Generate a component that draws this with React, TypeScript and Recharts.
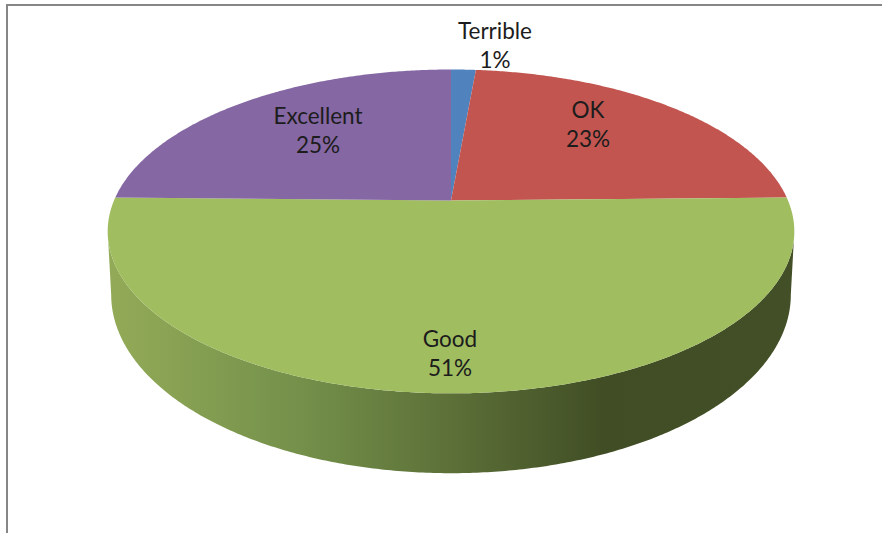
import { Pie, PieChart } from "recharts";

const categories = ["Terrible", "OK", "Good", "Excellent"];
const values = [1.4, 23.3, 50.6, 24.7];
const colors = ["#5082be", "#c25550", "#a0bd60", "#8567a3"];

// label anchor relative to the pie's apex: [dx, baseline dy of first line]
const labelSpots: Record<string, number[]> = {
  Terrible: [44, -162],
  OK: [137, -83],
  Good: [-1, 146],
  Excellent: [-133, -77],
};

const chartData = categories.map((name, i) => ({ name, value: values[i], fill: colors[i] }));

const WIDTH = 882;
const HEIGHT = 533;
const CX = 451;
const CY = 200.5;
const RADIUS = 337;

// perspective of the tilted disc
const TILT = 0.191;
const SQUASH = 0.463;
const rad = Math.PI / 180;

// top ellipse that the projection gives, the wall's lower rim is scaled from it
const TOP_CY_OFFSET = 30.3;
const TOP_RY = 161.5;
const TOP_RX = 343.5;
const BOTTOM_CY_OFFSET = 93.5;
const BOTTOM_RY = 178;
const BOTTOM_RX = 340;

function project(cx: number, cy: number, r: number, deg: number) {
  const x = Math.cos(deg * rad);
  const s = -Math.sin(deg * rad);
  const w = 1 - TILT * s;
  return [cx + (r * x) / w, cy + (SQUASH * r * s) / w];
}

function rimY(cy: number, p: number[]) {
  return (p[1] - (cy + TOP_CY_OFFSET)) / TOP_RY;
}

function lowerRim(cx: number, cy: number, p: number[]) {
  const ex = (p[0] - cx) / TOP_RX;
  const ey = rimY(cy, p);
  return [cx + ex * BOTTOM_RX, cy + BOTTOM_CY_OFFSET + ey * BOTTOM_RY];
}

function Slice3D(props: any) {
  const { cx, cy, outerRadius, startAngle, endAngle, fill } = props;
  const lo = Math.min(startAngle, endAngle);
  const hi = Math.max(startAngle, endAngle);
  const rim: number[][] = [];
  for (let a = hi; a > lo; a -= 0.5) rim.push(project(cx, cy, outerRadius, a));
  rim.push(project(cx, cy, outerRadius, lo));
  const top = `M${cx},${cy}L` + rim.map((p) => p.join(",")).join("L") + "Z";

  const facesFront = lo <= -90 && hi >= -90;
  let wall = "";
  if (facesFront) {
    // only the part of the rim below the widest point shows a wall
    const upper = rim.filter((p) => rimY(cy, p) >= 0.05);
    const low = rim.filter((p) => rimY(cy, p) >= 0).map((p) => lowerRim(cx, cy, p)).reverse();
    wall = "M" + upper.concat(low).map((p) => p.join(",")).join("L") + "Z";
  }
  return (
    <g>
      {facesFront && (
        <>
          <defs>
            <linearGradient id="wallShade" x1="0" y1="0" x2="1" y2="0">
              <stop offset="0" stopColor="#93ab58" />
              <stop offset="0.28" stopColor="#74904a" />
              <stop offset="0.5" stopColor="#5c7038" />
              <stop offset="0.72" stopColor="#414e25" />
              <stop offset="1" stopColor="#434f26" />
            </linearGradient>
          </defs>
          <path d={wall} fill="url(#wallShade)" />
        </>
      )}
      <path d={top} fill={fill} />
    </g>
  );
}

function SliceLabel(props: any) {
  const { cx, cy, name, percent } = props;
  const spot = labelSpots[name];
  const x = cx + spot[0];
  const y = cy + spot[1];
  return (
    <text x={x} y={y} textAnchor="middle" fontFamily="Lato" fontSize={22.5} fill="#1c1c1c">
      <tspan x={x}>{name}</tspan>
      <tspan x={x} dy={29.5}>
        {Math.round(percent * 100)}%
      </tspan>
    </text>
  );
}

// thin grey frame of the pasted chart, open on the right and bottom
function ChartFrame() {
  return (
    <svg width={WIDTH} height={HEIGHT} style={{ position: "absolute", left: 0, top: 0, zIndex: 5, pointerEvents: "none" }}>
      <rect x={6} y={4} width={2} height={HEIGHT - 4} fill="#868686" />
      <rect x={6} y={4} width={WIDTH - 6} height={2} fill="#868686" />
    </svg>
  );
}

export default function App() {
  return (
    <div style={{ position: "absolute", left: 0, top: 0, width: WIDTH, height: HEIGHT, background: "#fff" }}>
      <PieChart width={WIDTH} height={HEIGHT} margin={{ top: 0, right: 0, bottom: 0, left: 0 }}>
        <Pie
          data={chartData}
          dataKey="value"
          nameKey="name"
          cx={CX}
          cy={CY}
          innerRadius={0}
          outerRadius={RADIUS}
          startAngle={90}
          endAngle={-270}
          stroke="none"
          shape={Slice3D}
          label={SliceLabel}
          labelLine={false}
          isAnimationActive={false}
        />
      </PieChart>
      <ChartFrame />
    </div>
  );
}
